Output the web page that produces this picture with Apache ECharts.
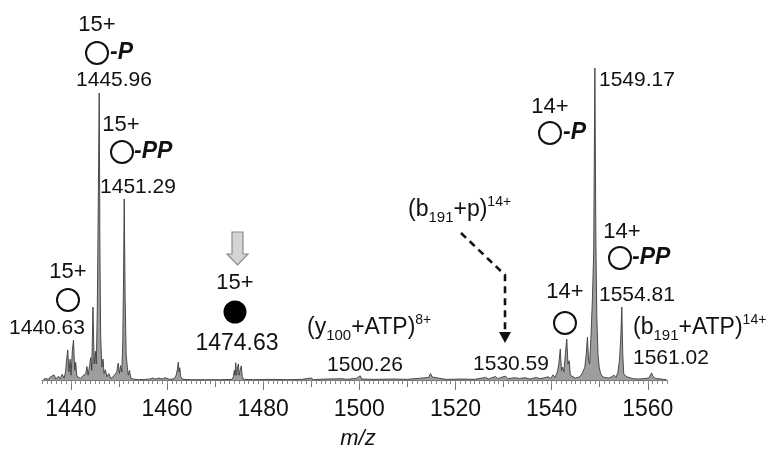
<!DOCTYPE html>
<html><head><meta charset="utf-8">
<script src="https://cdn.jsdelivr.net/npm/echarts@6/dist/echarts.min.js"></script>
<style>html,body{margin:0;padding:0;background:#fff}#c{width:781px;height:451px}</style>
</head><body><div id="c"></div>
<script>
// m/z values and relative intensities (% of full scale)
const mzValues = [
1434.3,1434.8,1435.3,1435.7,1436.0,1436.5,1436.9,1437.4,1437.8,1438.2,1438.6,1438.9,1439.1,1439.35,1439.6,1439.85,1440.05,1440.3,1440.55,1440.8,1441.0,1441.25,1441.6,1442.0,1442.4,1442.8,1443.1,1443.35,1443.6,1443.9,1444.15,1444.35,1444.6,1444.85,1445.1,1445.3,1445.5,1445.7,1445.9,1446.05,1446.2,1446.45,1446.7,1446.9,1447.2,1447.5,1447.9,1448.3,1448.8,1449.2,1449.55,1449.85,1450.1,1450.35,1450.6,1450.8,1450.95,1451.1,1451.3,1451.5,1451.75,1451.95,1452.2,1452.5,1453.0,1454.0,1455.5,1455.9,1456.4,1457.0,1457.6,1458.3,1459.0,1459.6,1460.5,1461.5,1461.9,1462.15,1462.35,1462.5,1462.65,1462.85,1463.3,1465,1468,1471,1473.5,1473.8,1474.0,1474.15,1474.3,1474.45,1474.65,1474.85,1475.0,1475.2,1475.45,1475.65,1476.0,1478,1481,1485,1488,1490.0,1490.5,1493,1496.6,1496.9,1497.3,1499.4,1500.2,1500.5,1503,1507,1510,1514.4,1514.8,1515.2,1515.6,1518,1521,1524,1526.3,1526.8,1527.6,1528.3,1528.8,1529.5,1530.4,1530.9,1532.2,1533.3,1534.5,1535.5,1536.8,1537.6,1538.5,1539.3,1539.8,1540.3,1540.7,1541.2,1541.5,1541.8,1542.05,1542.3,1542.55,1542.85,1543.15,1543.4,1543.65,1543.9,1544.3,1544.9,1545.5,1546.0,1546.5,1546.9,1547.2,1547.45,1547.7,1547.9,1548.2,1548.5,1548.75,1549.0,1549.2,1549.4,1549.65,1549.9,1550.2,1550.6,1551.1,1551.8,1552.5,1553.0,1553.4,1553.8,1554.1,1554.35,1554.6,1554.8,1555.0,1555.3,1555.6,1556.1,1557.0,1558.0,1559.0,1560.2,1560.55,1560.8,1561.05,1561.3,1561.6,1562.3,1563.2,1563.9
];
const intensityValues = [
0.2,0.5,0.2,0.9,0.3,1.6,0.3,1.2,0.4,1.8,0.6,2.5,6,9.4,2.5,6.5,1.5,9,12.5,3,5.5,1.2,0.8,0.5,1.2,0.6,2,4.2,1.5,4.5,7,3,22.8,5,9,5,22,55,89.7,40,14,4,6.5,2,3.2,1,2,0.5,1,0.8,2.5,5.3,2,4.5,2.5,12,30,56.6,25,8,4,1.5,3,0.5,0.3,0.1,0.2,0.6,0.3,0.6,0.3,0.6,0.3,0.7,0.2,0.4,1.5,3.2,5.6,2.5,3.8,1,0.2,0.1,0.1,0.1,0.2,1,3,1.5,5.4,1.5,3.8,5,1.5,3,4.4,1,0.2,0.1,0.2,0.1,0.2,0.6,0.1,0.3,0.4,1.0,0.2,0.5,1.3,0.3,0.2,0.3,0.2,0.8,2,0.9,0.3,0.2,0.3,0.2,0.8,0.3,0.7,1.1,0.4,0.8,1.2,0.4,0.7,0.5,0.7,0.3,0.8,0.4,0.7,1,0.5,1.6,0.8,2.5,5,9.7,3,4,2.5,8,12.8,5,6,1.5,1.2,0.6,0.8,1.2,2.5,4,8,13.4,6,5,14,26,40,97.5,45,20,8,4,2,1,0.8,0.6,1,1.5,0.8,2.5,6,12,22.8,8,2,2.5,1,0.8,0.4,0.3,0.4,0.6,1.5,2.2,1.2,1.5,0.5,0.4,0.2,0.1
];
const xMin = 1434, xMax = 1564;
const tickLabels = [1440,1460,1480,1500,1520,1540,1560];
const midTicks = [1450,1470,1490,1510,1530,1550];

const FONT = '"Liberation Sans", Arial, sans-serif';
const minorTicks = [];
for (let v = xMin; v <= xMax; v++) minorTicks.push(v);

const chart = echarts.init(document.getElementById('c'), null, {renderer: 'canvas'});

function txt(x, y, text, size) {
  return {type: 'text', x: x, y: y, z: 10,
    style: {text: text, fontSize: size, fontFamily: FONT, fill: '#111', align: 'center', verticalAlign: 'middle'}};
}
function ltxt(x, y, text, size) {
  return {type: 'text', x: x, y: y, z: 10,
    style: {text: text, fontSize: size, fontFamily: FONT, fill: '#111', align: 'left', verticalAlign: 'middle'}};
}
function ring(cx, cy, r) {
  return {type: 'circle', z: 10, shape: {cx: cx, cy: cy, r: r}, style: {fill: 'rgba(0,0,0,0)', stroke: '#111', lineWidth: 2}};
}
function bi(x, y, text) {
  return {type: 'text', x: x, y: y, z: 10, style: {text: text, fontSize: 23, fontFamily: FONT, fontWeight: 'bold', fontStyle: 'italic', fill: '#111', align: 'left', verticalAlign: 'middle'}};
}
const richStyles = {
  n: {fontSize: 23, fontFamily: FONT, color: '#111', lineHeight: 30},
  sub: {fontSize: 15, fontFamily: FONT, color: '#111', lineHeight: 15, verticalAlign: 'bottom'},
  sup: {fontSize: 14, fontFamily: FONT, color: '#111', lineHeight: 14, verticalAlign: 'top'}
};
function richTxt(x, y, text) {
  return {type: 'text', x: x, y: y, z: 10, style: {text: text, rich: richStyles, fill: '#111', fontFamily: FONT, align: 'left', verticalAlign: 'middle'}};
}

const graphics = [
  // 15+ series (left)
  txt(97, 25, '15+', 22), ring(97, 53, 11), bi(110, 53, '-P'), txt(114, 80, '1445.96', 21),
  txt(121, 125, '15+', 22), ring(122, 152, 11), bi(134, 152, '-PP'), txt(138, 187, '1451.29', 21),
  txt(68, 272, '15+', 22), ring(68, 300, 11), txt(47, 328, '1440.63', 21),
  // gray arrow + filled circle
  {type: 'polygon', z: 10, shape: {points: [[232,232],[243,232],[243,254],[248,254],[237.5,265],[227,254],[232,254]]}, style: {fill: '#d4d4d4', stroke: '#8a8a8a', lineWidth: 1.2}},
  txt(235, 283, '15+', 22),
  {type: 'circle', z: 10, shape: {cx: 235, cy: 312, r: 11.5}, style: {fill: '#000'}},
  txt(237, 344, '1474.63', 23),
  richTxt(307, 328, '{n|(y}{sub|100}{n|+ATP)}{sup|8+}'),
  txt(365, 365, '1500.26', 21),
  txt(511, 364, '1530.59', 21),
  richTxt(408, 210, '{n|(b}{sub|191}{n|+p)}{sup|14+}'),
  {type: 'polyline', z: 10, shape: {points: [[461,233],[505,275],[505,332]]}, style: {stroke: '#111', lineWidth: 2.6, lineDash: [7, 5], fill: null}},
  {type: 'polygon', z: 10, shape: {points: [[499,332],[511,332],[505,343]]}, style: {fill: '#111'}},
  // 14+ series (right)
  ltxt(599, 80, '1549.17', 21),
  txt(550, 107, '14+', 22), ring(550, 133, 11), bi(563, 133, '-P'),
  txt(622, 232, '14+', 22), ring(620, 258, 11), bi(632, 258, '-PP'),
  txt(565, 292, '14+', 22), ring(565, 323, 11),
  ltxt(599, 295, '1554.81', 21),
  richTxt(633, 328, '{n|(b}{sub|191}{n|+ATP)}{sup|14+}'),
  ltxt(633, 358, '1561.02', 21)
];

const baseX = {type: 'value', min: xMin, max: xMax, gridIndex: 0, position: 'bottom', splitLine: {show: false}};
chart.setOption({
  animation: false,
  backgroundColor: '#fff',
  grid: {left: 42, right: 114, top: 60, bottom: 71, containLabel: false, outerBoundsMode: 'none'},
  xAxis: [
    Object.assign({}, baseX, {
      name: 'm/z', nameLocation: 'middle', nameGap: 48,
      nameTextStyle: {fontSize: 22, fontStyle: 'italic', fontFamily: FONT, color: '#111', padding: [0, 0, 0, 7]},
      axisLine: {show: true, lineStyle: {color: '#777', width: 1}},
      axisTick: {show: true, length: 10, lineStyle: {color: '#777', width: 1}, customValues: tickLabels},
      axisLabel: {show: true, fontSize: 23, fontFamily: FONT, color: '#111', margin: 18, customValues: tickLabels,
        formatter: function (v) { return String(v); }}
    }),
    Object.assign({}, baseX, {
      axisLine: {show: false}, axisLabel: {show: false},
      axisTick: {show: true, length: 7, lineStyle: {color: '#777', width: 1}, customValues: midTicks}
    }),
    Object.assign({}, baseX, {
      axisLine: {show: false}, axisLabel: {show: false},
      axisTick: {show: true, length: 4, lineStyle: {color: '#888', width: 1}, customValues: minorTicks}
    })
  ],
  yAxis: {type: 'value', min: 0, max: 100, show: false, splitLine: {show: false}},
  series: [{
    type: 'line', xAxisIndex: 0, symbol: 'none', silent: true,
    data: mzValues.map((m, i) => [m, intensityValues[i]]),
    lineStyle: {color: '#3c3c3c', width: 0.9},
    areaStyle: {color: '#9e9e9e', opacity: 1}
  }],
  graphic: {elements: graphics}
});
</script>
</body></html>
